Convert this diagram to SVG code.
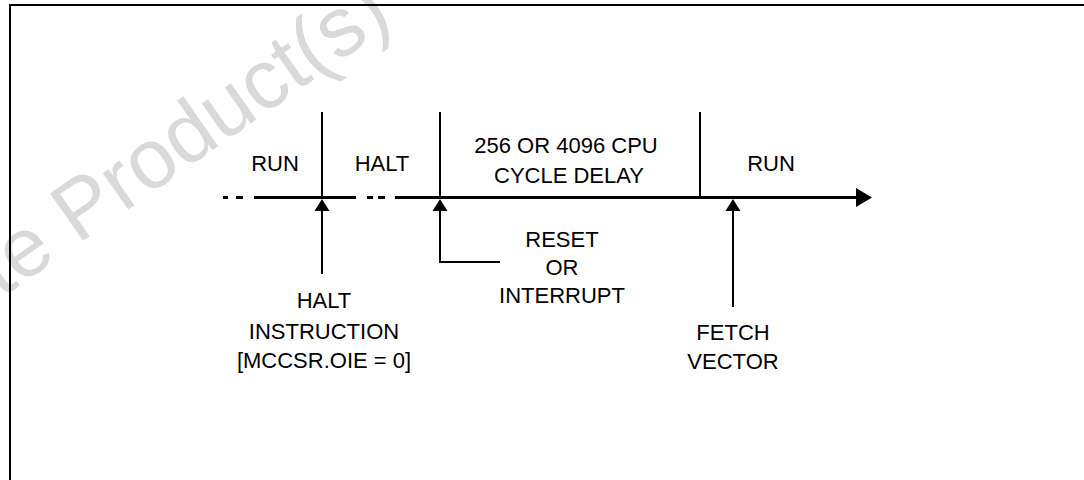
<svg xmlns="http://www.w3.org/2000/svg" width="1084" height="480" viewBox="0 0 1084 480">
<style>
.t{font-family:"Liberation Sans",Arial,sans-serif;font-size:22px;fill:#000;text-anchor:middle}
.wm{font-family:"Liberation Sans",Arial,sans-serif;font-size:84px;fill:#d9d9d9}
.ln{stroke:#000;stroke-width:2;fill:none}
.tl{stroke:#000;stroke-width:3;fill:none}
</style>
<defs>
<marker id="ah" viewBox="0 0 15 12" refX="7.5" refY="0" markerWidth="15" markerHeight="12" markerUnits="userSpaceOnUse" orient="0">
<path d="M0,12 L7.5,0 L15,12 Z" fill="#000"/>
</marker>
</defs>
<rect width="1084" height="480" fill="#fff"/>
<text class="wm" transform="translate(-217,451) rotate(-35)">Obsolete Product(s) - Obsolete Product(s)</text>
<g id="frame">
<path class="ln" d="M10,480 V5 H1084"/>
</g>
<g id="connectors">
<path class="tl" d="M223,197.5 H228 M236,197.5 H243 M254,197.5 H356 M367,197.5 H373 M378,197.5 H385 M395,197.5 H856"/>
<polygon points="856,188 872,197.5 856,207" fill="#000"/>
<path class="ln" d="M322,112 V197 M440,112 V197 M700,112 V197"/>
<path class="ln" d="M322,274 V210"/>
<polygon points="314.5,211 322,199 329.5,211" fill="#000"/>
<path class="ln" d="M500,262 H440 V210"/>
<polygon points="432.5,211 440,199 447.5,211" fill="#000"/>
<path class="ln" d="M733,307 V210"/>
<polygon points="725.5,211 733,199 740.5,211" fill="#000"/>
</g>
<g id="run1"><text class="t" x="275" y="171">RUN</text></g>
<g id="halt"><text class="t" x="382" y="171">HALT</text></g>
<g id="delay"><text class="t" x="566" y="153">256 OR 4096 CPU</text><text class="t" x="569" y="183">CYCLE DELAY</text></g>
<g id="run2"><text class="t" x="771" y="171">RUN</text></g>
<g id="halt-instr"><text class="t" x="324" y="308">HALT</text><text class="t" x="324" y="339">INSTRUCTION</text><text class="t" x="324" y="368">[MCCSR.OIE = 0]</text></g>
<g id="reset"><text class="t" x="562" y="247">RESET</text><text class="t" x="562" y="275">OR</text><text class="t" x="562" y="303">INTERRUPT</text></g>
<g id="fetch"><text class="t" x="733" y="340">FETCH</text><text class="t" x="733" y="369">VECTOR</text></g>
</svg>
